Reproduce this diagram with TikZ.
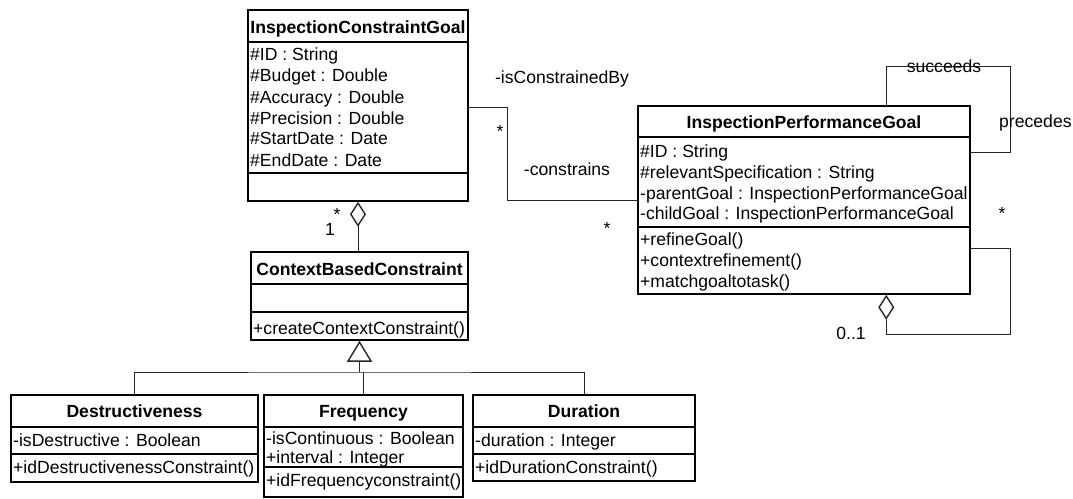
\documentclass[tikz,border=0pt]{standalone}
\usepackage{fontspec}
\setmainfont{Liberation Sans}
\usetikzlibrary{arrows.meta,calc}
\begin{document}
\begin{tikzpicture}[x=1pt,y=-1pt,
  font=\fontsize{17.6}{21}\selectfont,
  box/.style={draw, line width=1.5pt, inner sep=0pt, rectangle},
  sepline/.style={line width=1.5pt},
  txt/.style={inner sep=0pt, anchor=base west},
  hdr/.style={inner sep=0pt, anchor=base, font=\fontsize{17.6}{21}\selectfont\bfseries},
  lbl/.style={inner sep=0pt, anchor=base},
  star/.style={inner sep=0pt, anchor=center},
  conn/.style={line width=1pt, draw=black!85},
  aggtip/.style={{Diamond[open,length=25pt,width=16pt,line width=1.4pt]}-},
  gentip/.style={{Triangle[open,length=21pt,width=25pt,line width=1.4pt]}-}]
\useasboundingbox (0,0) rectangle (1073,498);

% ---------- class boxes ----------
\node[box, minimum width=220pt, minimum height=191pt] (icg) at (358,105.5) {};
\node[box, minimum width=217pt, minimum height=88pt] (cbc) at (359.5,296) {};
\node[box, minimum width=332pt, minimum height=188pt] (ipg) at (804,200) {};
\node[box, minimum width=247pt, minimum height=87pt] (des) at (134.5,438.5) {};
\node[box, minimum width=199pt, minimum height=102pt] (fre) at (363.5,446) {};
\node[box, minimum width=222pt, minimum height=86pt] (dur) at (584,438) {};

% ---------- compartment lines ----------
\draw[sepline] (icg.west |- 0,42) -- (icg.east |- 0,42);
\draw[sepline] (icg.west |- 0,173) -- (icg.east |- 0,173);
\draw[sepline] (cbc.west |- 0,284) -- (cbc.east |- 0,284);
\draw[sepline] (cbc.west |- 0,312) -- (cbc.east |- 0,312);
\draw[sepline] (ipg.west |- 0,137) -- (ipg.east |- 0,137);
\draw[sepline] (ipg.west |- 0,227) -- (ipg.east |- 0,227);
\draw[sepline] (des.west |- 0,427) -- (des.east |- 0,427);
\draw[sepline] (des.west |- 0,454) -- (des.east |- 0,454);
\draw[sepline] (fre.west |- 0,427) -- (fre.east |- 0,427);
\draw[sepline] (fre.west |- 0,467) -- (fre.east |- 0,467);
\draw[sepline] (dur.west |- 0,427) -- (dur.east |- 0,427);
\draw[sepline] (dur.west |- 0,454) -- (dur.east |- 0,454);

% ---------- InspectionConstraintGoal ----------
\node[hdr] (icgH) at (358,33) {InspectionConstraintGoal};
\node[txt] (icgA1) at (250,60) {\#ID : String};
\node[txt] (icgA2) at (250,81) {\#Budget : Double};
\node[txt] (icgA3) at (250,103) {\#Accuracy : Double};
\node[txt] (icgA4) at (250,124) {\#Precision : Double};
\node[txt] (icgA5) at (250,144) {\#StartDate : Date};
\node[txt] (icgA6) at (250,166) {\#EndDate : Date};

% ---------- ContextBasedConstraint ----------
\node[hdr] (cbcH) at (359.5,275) {ContextBasedConstraint};
\node[txt] (cbcO1) at (253,334) {+createContextConstraint()};

% ---------- InspectionPerformanceGoal ----------
\node[hdr] (ipgH) at (804,128) {InspectionPerformanceGoal};
\node[txt] (ipgA1) at (640,157) {\#ID : String};
\node[txt] (ipgA2) at (640,178) {\#relevantSpecification : String};
\node[txt] (ipgA3) at (640,199) {-parentGoal : InspectionPerformanceGoal};
\node[txt] (ipgA4) at (640,219) {-childGoal : InspectionPerformanceGoal};
\node[txt] (ipgO1) at (640,245) {+refineGoal()};
\node[txt] (ipgO2) at (640,266) {+contextrefinement()};
\node[txt] (ipgO3) at (640,287) {+matchgoaltotask()};

% ---------- Destructiveness ----------
\node[hdr] (desH) at (134.5,417) {Destructiveness};
\node[txt] (desA1) at (13,446) {-isDestructive : Boolean};
\node[txt] (desO1) at (13,473) {+idDestructivenessConstraint()};

% ---------- Frequency ----------
\node[hdr] (freH) at (363.5,417) {Frequency};
\node[txt] (freA1) at (266,444) {-isContinuous : Boolean};
\node[txt] (freA2) at (266,463) {+interval : Integer};
\node[txt] (freO1) at (266,486) {+idFrequencyconstraint()};

% ---------- Duration ----------
\node[hdr] (durH) at (584,417) {Duration};
\node[txt] (durA1) at (475,446) {-duration : Integer};
\node[txt] (durO1) at (475,473) {+idDurationConstraint()};

% ---------- association ICG -- IPG ----------
\draw[conn] ($(icg.east)+(0,1.5)$) -- ++(39,0) |- (ipg.west);
\node[lbl] (lIsC) at (562,83) {-isConstrainedBy};
\node[star] (sA) at (500,131) {*};
\node[lbl] (lCon) at (567,175) {-constrains};
\node[star] (sB) at (607,228) {*};

% ---------- aggregation ICG <>-- CBC ----------
\draw[conn, aggtip] (icg.south) -- (icg.south |- cbc.north);
\node[star] (sC) at (337,214) {*};
\node[lbl] (lOne) at (330,235) {1};

% ---------- generalization ----------
\coordinate (bus) at (cbc.south |- 0,372);
\draw[conn, gentip] (cbc.south) -- (bus);
\draw[conn] (des.north) |- (bus) -| (dur.north);
\draw[conn] (fre.north) -- (fre.north |- bus);

% ---------- IPG self association succeeds / precedes ----------
\draw[conn] ($(ipg.north west)+(249,0)$) |- ($(ipg.east)+(40,-134)$) |- ($(ipg.east)+(0,-48)$);
\node[lbl] (lSuc) at (944,72) {succeeds};
\node[txt] (lPre) at (999,127) {precedes};

% ---------- IPG self aggregation ----------
\draw[conn, aggtip] ($(ipg.south west)+(249,0)$) |- ($(ipg.east)+(40,134)$) |- ($(ipg.east)+(0,48)$);
\node[star] (sD) at (1002,213) {*};
\node[lbl] (lZO) at (851,339) {0..1};
\end{tikzpicture}
\end{document}
